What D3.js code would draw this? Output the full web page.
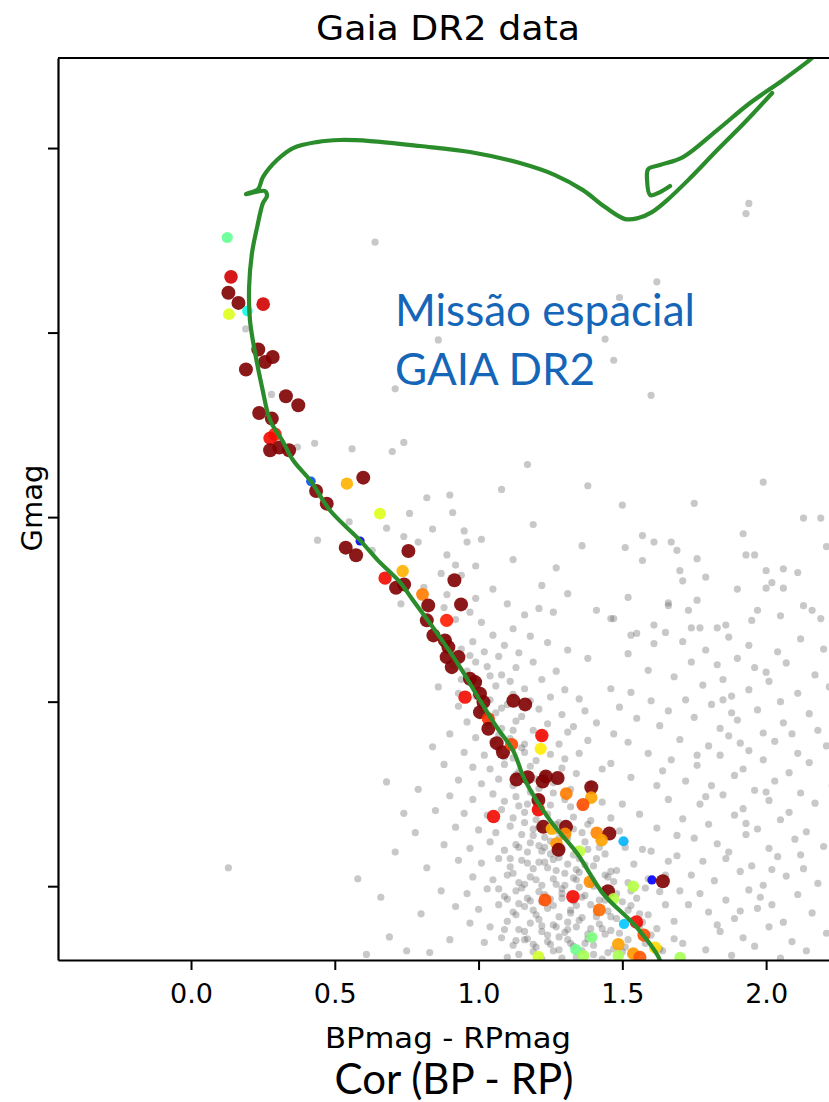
<!DOCTYPE html>
<html>
<head>
<meta charset="utf-8">
<script src="https://cdn.jsdelivr.net/npm/d3@7"></script>
<style>
  body { margin: 0; background: #fff; }
</style>
</head>
<body>
<svg id="chart" width="829" height="1102"></svg>
<script>
// ---------------- data ----------------
var x_ticks = [0.0, 0.5, 1.0, 1.5, 2.0];
var y_ticks = [8, 10, 12, 14, 16];   // Gmag ticks (labels hidden in the original)

// field stars (BP-RP, Gmag) - gray background
var field_upper = [
  [0.64,9.02],[0.19,9.96],[0.28,10.67],[0.71,10.61],[1.94,8.60],[1.93,8.71],[1.62,9.45],[1.49,9.62],[0.86,10.08],[1.44,10.07],
  [1.47,10.30],[1.60,10.68],[0.43,11.20],[0.37,11.24],[0.56,11.26],[0.70,11.29],[0.74,11.19],[0.82,11.79],[0.90,11.76],[0.91,11.95],
  [0.76,11.96],[0.84,12.13],[0.55,12.05],[0.68,12.12],[0.74,12.21],[0.44,12.25],[0.63,12.36],[0.79,12.27],[0.89,12.41],[0.96,12.27],
  [0.95,12.15],[1.01,12.24],[0.99,12.53],[0.92,12.52],[0.87,12.61],[0.94,12.63],[0.81,12.76],[0.89,12.84],[0.99,12.88],[1.05,12.78],
  [0.73,12.94],[0.13,15.80],[1.12,12.46],[1.19,12.08],[1.27,12.55],[1.08,11.70],[1.31,12.83],[1.22,12.74],[1.36,12.31],[1.17,11.43],
  [1.38,11.66],[1.50,11.87],[1.75,11.85],[1.57,12.20],[1.61,12.27],[1.67,12.27],[1.51,12.33],[1.57,12.47],[1.69,12.36],[1.76,12.45],
  [1.92,12.18],[2.13,12.01],[2.19,12.01],[1.70,12.58],[1.71,12.69],[1.79,12.65],[1.52,12.87],[1.66,12.93],[1.73,13.01],[1.76,12.90],
  [1.93,12.41],[1.96,12.41],[2.00,12.58],[2.06,12.56],[2.11,12.60],[1.90,12.78],[2.00,12.77],[2.06,12.77],[2.02,12.71],[1.46,13.10],
  [1.53,13.28],[1.61,13.17],[1.74,13.20],[1.77,13.20],[1.83,13.20],[1.86,13.17],[1.97,13.01],[1.95,13.12],[2.05,13.07],[2.13,12.96],
  [2.16,13.01],[2.19,13.10],[1.26,13.03],[1.41,13.01],[1.47,13.10],[1.55,13.26],[1.65,13.25],[1.66,12.96],[1.38,13.53],[1.52,13.48],
  [1.61,13.37],[1.46,13.86],[1.53,13.90],[1.59,13.66],[1.49,14.06],[1.60,13.99],[1.66,14.10],[1.41,14.23],[1.47,14.35],[1.55,14.18],
  [1.31,14.33],[1.38,14.42],[1.52,14.44],[1.59,14.56],[1.64,14.75],[1.46,14.67],[1.53,14.82],[1.35,14.56],[1.99,11.62],[2.21,12.32]
];

var field_band = [
  [0.88,12.98],[0.97,13.03],[1.10,12.94],[1.16,13.06],[1.21,12.99],[0.92,13.11],[1.01,13.14],[1.12,13.21],[1.18,13.29],[0.89,13.31],
  [0.98,13.35],[1.05,13.28],[1.09,13.39],[1.24,13.36],[0.94,13.43],[1.02,13.46],[1.07,13.51],[1.14,13.47],[1.31,13.44],[0.99,13.57],
  [0.91,13.61],[0.96,13.67],[1.03,13.62],[1.08,13.71],[1.13,13.63],[1.19,13.57],[1.27,13.67],[0.94,13.76],[1.00,13.79],[1.06,13.83],
  [1.11,13.78],[1.16,13.86],[1.22,13.76],[1.30,13.87],[0.93,13.91],[0.99,13.94],[1.04,13.98],[1.12,13.92],[1.18,13.99],[1.25,13.95],
  [1.35,13.97],[0.86,13.84],[0.93,14.05],[1.01,14.09],[1.06,14.12],[1.10,14.03],[1.15,14.16],[1.21,14.08],[1.29,14.14],[1.37,14.10],
  [0.96,14.22],[1.03,14.26],[1.08,14.29],[1.13,14.21],[1.19,14.31],[1.24,14.24],[1.33,14.27],[0.90,14.35],[0.99,14.39],[1.05,14.43],
  [1.11,14.40],[1.16,14.46],[1.22,14.37],[1.28,14.46],[0.84,14.49],[0.95,14.55],[1.02,14.58],[1.07,14.52],[1.12,14.61],[1.16,14.55],
  [1.20,14.64],[1.25,14.57],[1.30,14.62],[0.88,14.68],[0.98,14.71],[1.04,14.73],[1.09,14.68],[1.14,14.76],[1.18,14.70],[1.23,14.79],
  [1.29,14.72],[1.34,14.78],[1.43,14.73],[0.93,14.85],[1.01,14.89],[1.07,14.84],[1.12,14.91],[1.17,14.86],[1.21,14.94],[1.26,14.88],
  [1.32,14.95],[1.39,14.90],[0.79,14.95],[0.90,15.02],[0.98,15.06],[1.05,15.00],[1.09,15.08],[1.13,15.03],[1.17,15.11],[1.21,15.05],
  [1.25,15.12],[1.30,15.06],[1.36,15.14],[1.43,15.09],[1.50,15.11],[0.85,15.18],[0.95,15.21],[1.03,15.23],[1.08,15.17],[1.12,15.26],
  [1.16,15.20],[1.20,15.28],[1.24,15.22],[1.28,15.31],[1.33,15.25],[1.39,15.29],[1.46,15.26],[1.56,15.22],[0.92,15.36],[1.00,15.39],
  [1.06,15.42],[1.11,15.35],[1.15,15.44],[1.19,15.38],[1.23,15.47],[1.27,15.40],[1.31,15.48],[1.36,15.42],[1.42,15.47],[1.49,15.40],
  [0.78,15.42],[0.88,15.55],[0.97,15.59],[1.04,15.52],[1.09,15.61],[1.13,15.55],[1.17,15.63],[1.21,15.56],[1.25,15.65],[1.29,15.58],
  [1.33,15.66],[1.38,15.60],[1.44,15.65],[1.51,15.58],[1.60,15.62],[0.93,15.72],[1.01,15.75],[1.07,15.70],[1.11,15.79],[1.15,15.72],
  [1.19,15.81],[1.23,15.74],[1.27,15.83],[1.31,15.76],[1.35,15.85],[1.40,15.78],[1.46,15.84],[1.54,15.76],[0.82,15.80],[0.98,15.90],
  [1.05,15.93],[1.10,15.88],[1.14,15.96],[1.18,15.90],[1.22,15.99],[1.26,15.92],[1.30,15.99],[1.34,15.93],[1.39,15.97],[1.45,15.90],
  [1.52,15.96],[1.59,15.92],[0.87,16.05],[0.96,16.08],[1.03,16.03],[1.09,16.11],[1.13,16.05],[1.17,16.13],[1.21,16.06],[1.25,16.14],
  [1.29,16.08],[1.33,16.16],[1.37,16.10],[1.42,16.15],[1.48,16.08],[1.55,16.13],[1.63,16.06],[0.92,16.22],[1.00,16.25],[1.07,16.20],
  [1.12,16.28],[1.16,16.22],[1.20,16.31],[1.24,16.24],[1.28,16.33],[1.32,16.26],[1.36,16.34],[1.41,16.28],[1.46,16.33],[1.52,16.26],
  [1.59,16.31],[0.80,16.30],[0.97,16.40],[1.04,16.44],[1.10,16.38],[1.14,16.47],[1.18,16.40],[1.22,16.49],[1.26,16.42],[1.30,16.50],
  [1.34,16.44],[1.38,16.52],[1.43,16.46],[1.49,16.51],[1.56,16.44],[0.90,16.58],[1.02,16.61],[1.08,16.56],[1.12,16.64],[1.16,16.58],
  [1.20,16.66],[1.24,16.60],[1.28,16.69],[1.32,16.62],[1.36,16.70],[1.40,16.64],[1.45,16.72],[1.51,16.66],[0.75,16.70],[1.10,16.77],
  [1.22,16.79],[1.34,16.77],[1.18,15.53],[1.26,15.71],[1.22,16.17],[1.31,16.39],[1.19,16.71],[1.35,16.01],[1.28,16.55],[1.14,16.19],
  [0.66,16.12],[0.71,15.63],[0.69,16.55],[0.61,16.74],[0.74,15.21],[0.83,16.72],[0.58,15.92],[0.68,14.87]
];

// denser core of the sequence, left of the isochrone near the bottom
var field_core = [
  [1.16,15.31],[1.21,15.36],[1.27,15.33],[1.33,15.38],[1.19,15.45],[1.25,15.51],[1.30,15.44],[1.37,15.52],[1.14,15.58],[1.22,15.62],
  [1.28,15.69],[1.34,15.61],[1.41,15.70],[1.17,15.75],[1.24,15.80],[1.30,15.86],[1.37,15.77],[1.44,15.88],[1.12,15.86],[1.20,15.93],
  [1.27,15.98],[1.33,15.91],[1.40,16.00],[1.47,15.95],[1.15,16.02],[1.23,16.09],[1.29,16.03],[1.36,16.12],[1.43,16.05],[1.50,16.17],
  [1.18,16.16],[1.26,16.21],[1.32,16.29],[1.39,16.20],[1.45,16.27],[1.53,16.21],[1.13,16.31],[1.21,16.36],[1.27,16.44],[1.35,16.37],
  [1.42,16.41],[1.48,16.35],[1.57,16.39],[1.16,16.49],[1.24,16.53],[1.31,16.47],[1.38,16.57],[1.44,16.52],[1.52,16.58],[1.60,16.53],
  [1.19,16.63],[1.26,16.70],[1.33,16.65],[1.40,16.74],[1.47,16.68],[1.55,16.74],[1.63,16.68],[1.14,16.74],[1.29,16.78],[1.43,16.79],
  [1.09,16.47],[1.07,16.03],[1.11,15.70],[1.25,15.40],[1.35,15.70],[1.29,16.13],[1.22,16.43],[1.37,16.62],[1.17,16.57],[1.31,16.58],
  [1.41,16.33],[1.46,16.48],[1.50,16.71],[1.58,16.62],[1.62,16.46],[1.56,16.30],[1.53,16.05],[1.48,15.83],[1.42,15.58],[1.38,15.33],
  [1.32,15.14],[1.26,14.99],[1.18,14.98],[1.13,14.79],[1.20,14.84],[1.09,14.60],[1.15,14.50],[1.07,14.36],[1.12,14.31],[1.03,14.17],
  [1.08,14.07],[1.00,13.87],[1.04,13.72],[0.97,13.50],[1.20,15.17],[1.14,15.13],[1.23,15.58],[1.16,15.98],[1.19,16.26],[1.25,16.63],
  [1.34,16.21],[1.39,16.46],[1.44,16.15],[1.28,15.48],[1.34,15.82],[1.21,15.74],[1.10,16.14],[1.13,16.59],[1.65,16.20],[1.68,16.57],
  [1.70,16.05],[1.66,15.73]
];

var field_red = [
  [1.71,13.35],[1.79,13.44],[1.87,13.30],[1.94,13.39],[2.04,13.46],[2.12,13.32],[2.20,13.43],[1.74,13.57],[1.83,13.60],[1.90,13.53],
  [2.00,13.68],[2.07,13.58],[2.17,13.71],[1.68,13.73],[1.78,13.82],[1.85,13.76],[1.94,13.87],[2.01,13.78],[2.11,13.91],[2.22,13.84],
  [1.72,13.98],[1.81,14.03],[1.88,13.94],[1.97,14.09],[2.05,14.00],[2.15,14.13],[1.63,14.26],[1.75,14.17],[1.84,14.29],[1.90,14.20],
  [1.99,14.34],[2.06,14.23],[2.18,14.31],[1.70,14.41],[1.80,14.48],[1.87,14.37],[1.94,14.53],[2.03,14.43],[2.11,14.56],[2.21,14.48],
  [1.67,14.63],[1.76,14.69],[1.84,14.58],[1.92,14.73],[1.99,14.63],[2.08,14.77],[2.15,14.66],[1.72,14.86],[1.81,14.91],[1.89,14.80],
  [1.96,14.96],[2.03,14.86],[2.12,14.99],[2.23,14.91],[1.66,15.06],[1.77,15.11],[1.85,15.01],[1.92,15.16],[2.01,15.07],[2.08,15.20],
  [2.17,15.10],[1.71,15.27],[1.80,15.33],[1.89,15.23],[1.97,15.38],[2.05,15.28],[2.14,15.41],[1.75,15.48],[1.83,15.54],[1.93,15.44],
  [2.01,15.59],[2.10,15.49],[2.20,15.57],[1.69,15.67],[1.78,15.73],[1.87,15.63],[1.95,15.78],[2.04,15.68],[2.13,15.81],[1.74,15.88],
  [1.82,15.94],[1.91,15.84],[1.99,15.99],[2.07,15.89],[2.18,15.97],[1.77,16.08],[1.86,16.15],[1.94,16.04],[2.02,16.20],[2.11,16.09],
  [1.80,16.28],[1.89,16.35],[1.97,16.24],[2.06,16.39],[2.16,16.29],[1.84,16.49],[1.92,16.56],[2.01,16.44],[2.09,16.60],[2.21,16.51],
  [1.79,16.69],[1.88,16.75],[1.96,16.65],[2.05,16.78],[2.14,16.70],[1.62,15.37],[1.65,15.88],[1.68,16.38],[1.71,16.62],[1.58,16.02],
  [1.88,14.12],[1.93,15.32],[1.86,15.70],[1.98,16.12],[1.83,16.42],[1.91,14.45],[2.00,14.98],[1.79,15.03],[1.96,13.63],[1.85,13.98],
  [2.09,14.35],[2.02,15.82],[1.91,16.27],[1.76,14.58],[2.12,15.66],[1.73,16.20],[1.69,15.45],[1.62,14.91],[1.57,15.60],[1.64,16.70]
];

// cluster members: colour, magnitude and a membership weight (sets colour/size)
var members_bp = [0.126,0.139,0.130,0.165,0.251,0.132,0.196,0.234,0.284,0.257,0.191,0.330,0.373,0.237,0.281,0.292,0.275,0.275,0.307,0.341,
  0.417,0.542,0.599,0.435,0.472,0.657,0.588,0.538,0.574,0.756,0.736,0.675,0.713,0.741,0.805,0.916,0.939,0.825,0.889,0.820,
  0.843,0.883,0.895,0.889,0.930,0.907,0.970,0.988,0.953,1.005,1.017,1.005,1.034,1.034,1.121,1.162,1.220,1.216,1.063,1.085,
  1.115,1.132,1.171,1.223,1.234,1.275,1.392,1.305,1.392,1.363,1.208,1.208,1.052,1.225,1.304,1.255,1.411,1.455,1.301,1.428,
  1.504,1.271,1.278,1.351,1.603,1.641,1.387,1.538,1.231,1.328,1.450,1.469,1.420,1.549,1.506,1.575,1.394,1.486,1.614,1.338,
  1.365,1.538,1.561,1.208,1.486,1.701];
var members_g = [8.969,9.396,9.569,9.678,9.692,9.800,9.765,10.183,10.264,10.318,10.400,10.690,10.787,10.871,10.932,11.102,11.145,11.276,11.246,11.276,
  11.612,11.637,11.572,11.717,11.854,11.962,12.259,12.331,12.414,12.368,12.585,12.661,12.765,12.729,12.837,12.685,12.946,12.957,13.119,13.119,
  13.282,13.336,13.409,13.517,13.517,13.626,13.752,13.788,13.951,13.914,14.005,14.114,14.186,14.294,13.990,14.030,14.366,14.511,14.450,14.548,
  14.464,14.844,14.819,14.866,14.811,14.827,14.927,14.996,15.040,15.115,15.066,15.172,15.245,15.357,15.357,15.378,15.421,15.429,15.433,15.501,
  15.513,15.538,15.606,15.621,15.932,15.947,15.952,16.002,16.149,16.113,16.055,16.138,16.257,16.387,16.409,16.530,16.554,16.630,16.666,16.686,
  16.753,16.731,16.771,16.764,16.753,16.774];
var members_p = [0.47,0.93,1.0,1.0,0.93,0.62,0.37,1.0,1.0,1.0,1.0,1.0,1.0,1.0,1.0,0.88,0.9,1.0,1.0,1.0,
  0.2,0.72,1.0,1.0,1.0,0.62,0.1,1.0,1.0,1.0,0.72,0.9,1.0,1.0,0.78,1.0,1.0,1.0,0.88,1.0,
  1.0,1.0,1.0,1.0,1.0,1.0,1.0,1.0,0.9,1.0,1.0,1.0,0.86,1.0,1.0,1.0,0.9,0.66,1.0,1.0,
  0.84,1.0,1.0,1.0,1.0,1.0,1.0,0.78,0.74,0.83,1.0,0.9,0.9,1.0,1.0,0.72,0.77,1.0,0.76,0.74,
  0.3,0.75,1.0,0.58,0.12,1.0,0.76,0.57,0.83,0.9,1.0,0.57,0.8,0.9,0.32,0.83,0.5,0.74,0.68,0.48,
  0.55,0.75,0.82,0.6,0.55,0.55];

// isochrone (BP-RP, Gmag): main sequence -> turn-off hook -> subgiants -> giant branch
var iso_main = [
  [1.631,16.90],[1.631,16.807],[1.551,16.449],[1.433,16.080],[1.343,15.646],[1.249,15.289],[1.162,14.855],[1.120,14.529],[1.064,14.280],
  [1.005,13.987],[0.936,13.629],[0.856,13.260],[0.772,12.902],[0.727,12.707],[0.650,12.469],[0.588,12.252],[0.483,11.926],[0.417,11.612],
  [0.355,11.384],[0.317,11.167],[0.275,10.950],[0.247,10.592],[0.223,10.223],[0.205,9.866],[0.202,9.508],[0.212,9.139],[0.230,8.857],
  [0.250,8.597],[0.264,8.521],[0.257,8.466],[0.191,8.499],[0.233,8.445],[0.250,8.315],[0.299,8.130],[0.355,8.000],[0.438,7.935],
  [0.518,7.913],[0.623,7.924],[0.797,7.978],[0.970,8.043],[1.144,8.163],[1.266,8.293],[1.363,8.456],[1.440,8.640],[1.510,8.770],
  [1.555,8.759],[1.603,8.694],[1.656,8.564],[1.736,8.325],[1.830,8.022],[1.927,7.718],[2.021,7.403]
];
// giant branch coming back down to the red clump loop
var iso_loop = [
  [2.181,6.959],[2.160,7.024],[2.059,7.262],[1.944,7.512],[1.830,7.805],[1.711,8.098],[1.631,8.184],[1.590,8.228],[1.586,8.347],
  [1.597,8.510],[1.631,8.477],[1.666,8.412]
];

// ---------------- chart ----------------
var svg = d3.select("#chart");
var plot = {left: 58, top: 58, right: 838, bottom: 960};

var x = d3.scaleLinear().domain([-0.4626, 2.25]).range([plot.left, plot.right]);
var y = d3.scaleLinear().domain([7.024, 16.80]).range([plot.top, plot.bottom]);

// matplotlib-like jet colormap
var jr = d3.scaleLinear().domain([0, 0.35, 0.66, 0.89, 1]).range([0, 0, 1, 1, 0.5]).clamp(true);
var jg = d3.scaleLinear().domain([0, 0.125, 0.375, 0.64, 0.91, 1]).range([0, 0, 1, 1, 0, 0]).clamp(true);
var jb = d3.scaleLinear().domain([0, 0.11, 0.34, 0.65, 1]).range([0.5, 1, 1, 0, 0]).clamp(true);
function jet(v) { return d3.rgb(jr(v) * 255, jg(v) * 255, jb(v) * 255).toString(); }
var rad = d3.scaleLinear().domain([0, 1]).range([4.3, 7]);

svg.append("defs").append("clipPath").attr("id", "clip")
  .append("rect")
    .attr("x", plot.left).attr("y", plot.top)
    .attr("width", plot.right - plot.left).attr("height", plot.bottom - plot.top);

var g = svg.append("g").attr("clip-path", "url(#clip)");

var field = field_upper.concat(field_band, field_core, field_red);
g.append("g").selectAll("circle")
  .data(field)
  .enter().append("circle")
    .attr("cx", d => x(d[0]))
    .attr("cy", d => y(d[1]))
    .attr("r", 3.6)
    .attr("fill", "#5e5e5e")
    .attr("fill-opacity", 0.34);

var members = members_bp.map((b, i) => ({bp: b, g: members_g[i], p: members_p[i]}));
g.append("g").selectAll("circle")
  .data(members)
  .enter().append("circle")
    .attr("cx", d => x(d.bp))
    .attr("cy", d => y(d.g))
    .attr("r", d => rad(d.p))
    .attr("fill", d => jet(d.p))
    .attr("fill-opacity", 0.9);

var line = d3.line()
  .x(d => x(d[0]))
  .y(d => y(d[1]))
  .curve(d3.curveCatmullRom.alpha(0.5));

[iso_main, iso_loop].forEach(function(pts) {
  g.append("path")
    .attr("d", line(pts))
    .attr("fill", "none")
    .attr("stroke", "#2a8c2a")
    .attr("stroke-width", 4.2)
    .attr("stroke-linejoin", "round")
    .attr("stroke-linecap", "round");
});

// axes
var xAxis = svg.append("g")
  .attr("transform", `translate(0,${plot.bottom})`)
  .call(d3.axisBottom(x).tickValues(x_ticks).tickFormat(d3.format(".1f"))
        .tickSize(10).tickSizeOuter(0).tickPadding(14));
var yAxis = svg.append("g")
  .attr("transform", `translate(${plot.left},0)`)
  .call(d3.axisLeft(y).tickValues(y_ticks).tickFormat(() => "").tickSize(10).tickSizeOuter(0));

[xAxis, yAxis].forEach(function(a) {
  a.select(".domain").attr("stroke", "#000").attr("stroke-width", 2.2);
  a.selectAll(".tick line").attr("stroke", "#000").attr("stroke-width", 2);
});
xAxis.selectAll(".tick text")
  .attr("font-family", "DejaVu Sans")
  .attr("font-size", 27)
  .attr("fill", "#000");

// top spine
svg.append("line")
  .attr("x1", plot.left).attr("x2", plot.right)
  .attr("y1", plot.top).attr("y2", plot.top)
  .attr("stroke", "#000").attr("stroke-width", 2.2);

// texts
svg.append("text")
  .attr("x", 448).attr("y", 40)
  .attr("text-anchor", "middle")
  .attr("font-family", "DejaVu Sans").attr("font-size", 34)
  .attr("textLength", 264).attr("lengthAdjust", "spacingAndGlyphs")
  .text("Gaia DR2 data");

svg.append("text")
  .attr("x", 448).attr("y", 1048)
  .attr("text-anchor", "middle")
  .attr("font-family", "DejaVu Sans").attr("font-size", 29)
  .attr("textLength", 246).attr("lengthAdjust", "spacingAndGlyphs")
  .text("BPmag - RPmag");

svg.append("text")
  .attr("transform", "translate(42,508) rotate(-90)")
  .attr("text-anchor", "middle")
  .attr("font-family", "DejaVu Sans").attr("font-size", 29)
  .text("Gmag");

svg.append("text")
  .attr("x", 454).attr("y", 1094)
  .attr("text-anchor", "middle")
  .attr("font-family", "Lato").attr("font-size", 42)
  .text("Cor (BP - RP)");

var note = svg.append("text")
  .attr("font-family", "Lato").attr("font-size", 44)
  .attr("fill", "#1565b8");
note.append("tspan").attr("x", 395).attr("y", 326).text("Missão espacial");
note.append("tspan").attr("x", 395).attr("y", 385).text("GAIA DR2");
</script>
</body>
</html>
